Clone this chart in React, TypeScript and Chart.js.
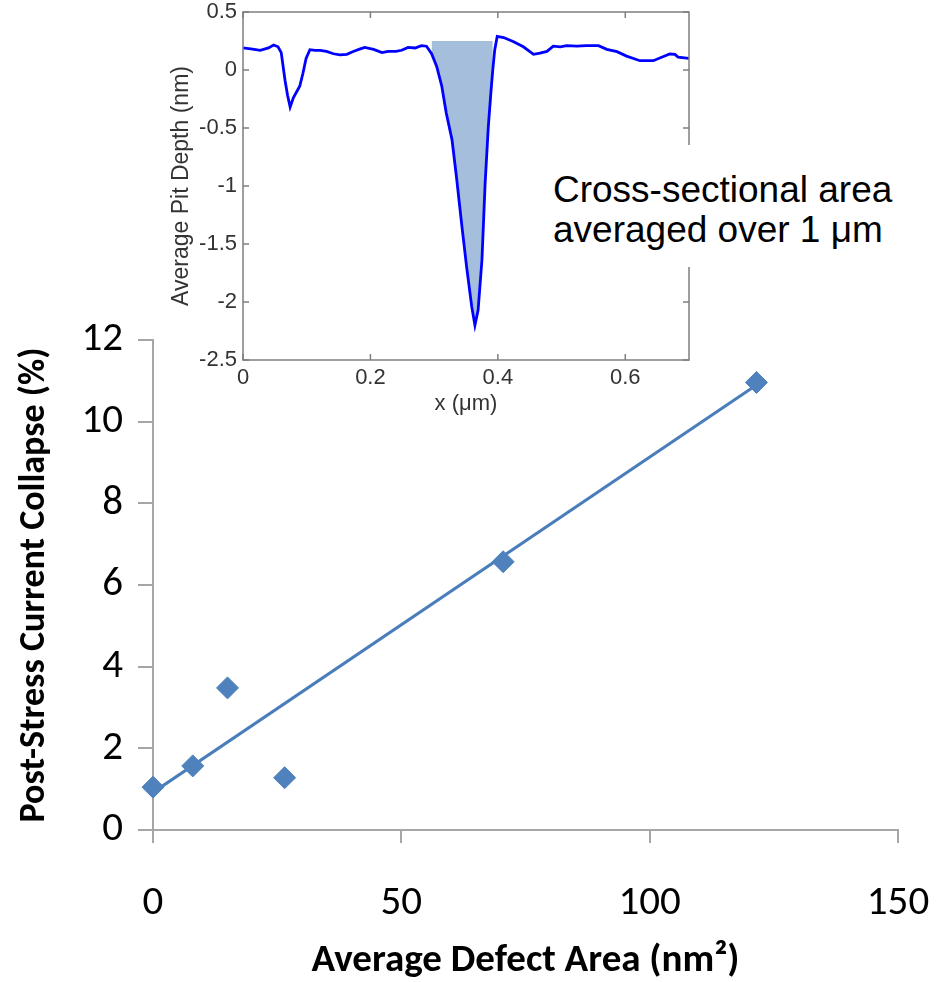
import React, { useEffect, useRef } from "react";
import { Chart, registerables } from "chart.js";

Chart.register(...registerables);

// ---------- Main scatter data ----------
const defectArea = [0, 8, 15, 26.5, 70.5, 121.5];
const currentCollapse = [1.05, 1.57, 3.48, 1.28, 6.57, 10.96];
const trendX = [0, 121.5];
const trendY = [0.92, 10.9];
const mainXTicks = [0, 50, 100, 150];
const mainYTicks = [0, 2, 4, 6, 8, 10, 12];

// ---------- Inset profile data ----------
const profileX = [
  0.0, 0.015, 0.027, 0.04, 0.048, 0.055, 0.06, 0.066, 0.07, 0.074, 0.079, 0.084, 0.089, 0.094, 0.099,
  0.105, 0.113, 0.121, 0.131, 0.142, 0.152, 0.163, 0.173, 0.183, 0.191, 0.205, 0.218, 0.228, 0.24,
  0.249, 0.259, 0.27, 0.28, 0.288, 0.296, 0.304, 0.312, 0.319, 0.328, 0.335, 0.343, 0.351, 0.359,
  0.364, 0.369, 0.375, 0.38, 0.385, 0.389, 0.392, 0.395, 0.399, 0.409, 0.424, 0.44, 0.456, 0.466,
  0.477, 0.487, 0.498, 0.508, 0.524, 0.539, 0.558, 0.571, 0.587, 0.602, 0.623, 0.644, 0.657, 0.67,
  0.678, 0.683, 0.7,
];
const profileY = [
  0.19, 0.18, 0.17, 0.19, 0.215, 0.2, 0.15, -0.09, -0.22, -0.32, -0.24, -0.19, -0.14, -0.03, 0.1,
  0.175, 0.17, 0.17, 0.16, 0.14, 0.13, 0.135, 0.16, 0.18, 0.195, 0.178, 0.15, 0.16, 0.16,
  0.17, 0.195, 0.19, 0.21, 0.205, 0.14, 0.03, -0.14, -0.37, -0.6, -0.92, -1.32, -1.7, -2.04,
  -2.2, -2.07, -1.64, -0.98, -0.49, -0.2, 0.0, 0.17, 0.29, 0.28, 0.245, 0.2, 0.135, 0.145,
  0.16, 0.205, 0.2, 0.21, 0.205, 0.21, 0.21, 0.178, 0.158, 0.12, 0.08, 0.08, 0.11, 0.138,
  0.135, 0.11, 0.1,
];
const pitFillFrom = 0.295;
const pitFillTo = 0.393;
const pitFillTop = 0.25;
const insetXTicks = [0, 0.2, 0.4, 0.6];
const insetYTicks = [0.5, 0, -0.5, -1, -1.5, -2, -2.5];

const MAIN_FONT = "Carlito, Lato, sans-serif";
const INSET_FONT = "'Liberation Sans', Arial, sans-serif";

const framePlugin = {
  id: "insetFrame",
  afterDatasetsDraw(chart: any) {
    const { ctx, chartArea, scales } = chart;
    const { left, right, top, bottom } = chartArea;
    ctx.save();
    ctx.strokeStyle = "#7f7f7f";
    ctx.lineWidth = 1.5;
    ctx.strokeRect(left, top, right - left, bottom - top);
    const tl = 6;
    ctx.beginPath();
    insetXTicks.forEach((v) => {
      const px = scales.x.getPixelForValue(v);
      ctx.moveTo(px, top);
      ctx.lineTo(px, top + tl);
      ctx.moveTo(px, bottom);
      ctx.lineTo(px, bottom - tl);
    });
    insetYTicks.forEach((v) => {
      const py = scales.y.getPixelForValue(v);
      ctx.moveTo(left, py);
      ctx.lineTo(left + tl, py);
      ctx.moveTo(right, py);
      ctx.lineTo(right - tl, py);
    });
    ctx.stroke();
    ctx.restore();
  },
};

export default function App() {
  const mainRef = useRef<HTMLCanvasElement>(null);
  const insetRef = useRef<HTMLCanvasElement>(null);

  useEffect(() => {
    const scatterPoints = defectArea.map((x, i) => ({ x, y: currentCollapse[i] }));
    const trendPoints = trendX.map((x, i) => ({ x, y: trendY[i] }));

    const main = new Chart(mainRef.current as HTMLCanvasElement, {
      type: "scatter",
      data: {
        datasets: [
          {
            type: "scatter",
            data: scatterPoints,
            pointStyle: "rectRot",
            pointRadius: 11,
            backgroundColor: "#4F81BD",
            borderColor: "#4F81BD",
            borderWidth: 1,
            clip: false,
          } as any,
          {
            type: "line",
            data: trendPoints,
            borderColor: "#4A7EBB",
            borderWidth: 3,
            pointRadius: 0,
            fill: false,
            tension: 0,
          } as any,
        ],
      },
      options: {
        responsive: false,
        animation: false,
        devicePixelRatio: 1,
        layout: { padding: { top: 340, right: 39, left: 0, bottom: 0 } },
        plugins: { legend: { display: false }, tooltip: { enabled: false } },
        scales: {
          x: {
            type: "linear",
            min: 0,
            max: 150,
            afterBuildTicks: (s: any) => {
              s.ticks = mainXTicks.map((v) => ({ value: v }));
            },
            grid: { drawOnChartArea: false, drawTicks: true, tickLength: 13, color: "#a6a6a6", lineWidth: 2 },
            border: { color: "#a6a6a6", width: 2 },
            ticks: { padding: 36, color: "#000", font: { family: MAIN_FONT, size: 41 } },
            title: {
              display: true,
              text: "Average Defect Area (nm²)",
              color: "#000",
              font: { family: MAIN_FONT, size: 39, weight: "bold" },
              padding: { top: 0, bottom: -3 },
            },
            afterFit: (s: any) => {
              s.height = 152;
              s.paddingLeft = 0;
              s.paddingRight = 0;
            },
          },
          y: {
            type: "linear",
            min: 0,
            max: 12,
            afterBuildTicks: (s: any) => {
              s.ticks = mainYTicks.map((v) => ({ value: v }));
            },
            grid: { drawOnChartArea: false, drawTicks: true, tickLength: 15, color: "#a6a6a6", lineWidth: 2 },
            border: { color: "#a6a6a6", width: 2 },
            ticks: { padding: 15, color: "#000", font: { family: MAIN_FONT, size: 41 } },
            title: {
              display: true,
              text: "Post-Stress Current Collapse (%)",
              color: "#000",
              font: { family: MAIN_FONT, size: 36, weight: "bold" },
              padding: { top: 13, bottom: 0 },
            },
            afterFit: (s: any) => {
              s.width = 153;
              s.paddingTop = 0;
              s.paddingBottom = 0;
            },
          },
        },
      } as any,
    });

    const profile = profileX.map((x, i) => ({ x, y: profileY[i] }));
    const pitFill = profile.filter((p) => p.x >= pitFillFrom && p.x <= pitFillTo);

    const inset = new Chart(insetRef.current as HTMLCanvasElement, {
      type: "line",
      data: {
        datasets: [
          {
            data: profile,
            borderColor: "#0000FF",
            borderWidth: 2.8,
            pointRadius: 0,
            tension: 0,
            fill: false,
          } as any,
          {
            data: pitFill,
            borderWidth: 0,
            borderColor: "rgba(0,0,0,0)",
            pointRadius: 0,
            tension: 0,
            backgroundColor: "rgb(164,190,220)",
            fill: { value: pitFillTop },
          } as any,
        ],
      },
      options: {
        responsive: false,
        animation: false,
        devicePixelRatio: 1,
        layout: { padding: { top: 12, right: 21, left: 0, bottom: 0 } },
        plugins: { legend: { display: false }, tooltip: { enabled: false } },
        scales: {
          x: {
            type: "linear",
            min: 0,
            max: 0.7,
            afterBuildTicks: (s: any) => {
              s.ticks = insetXTicks.map((v) => ({ value: v }));
            },
            grid: { display: false, drawTicks: false },
            border: { display: false },
            ticks: {
              padding: 5,
              color: "#333",
              font: { family: INSET_FONT, size: 22 },
              callback: (v: any) => String(Math.round(Number(v) * 10) / 10),
            },
            title: {
              display: true,
              text: "x (μm)",
              color: "#333",
              font: { family: INSET_FONT, size: 22 },
              padding: { top: 0, bottom: 3 },
            },
            afterFit: (s: any) => {
              s.height = 60;
              s.paddingLeft = 0;
              s.paddingRight = 0;
            },
          },
          y: {
            type: "linear",
            min: -2.5,
            max: 0.5,
            afterBuildTicks: (s: any) => {
              s.ticks = insetYTicks.map((v) => ({ value: v }));
            },
            grid: { display: false, drawTicks: false },
            border: { display: false },
            ticks: {
              padding: 6,
              color: "#333",
              font: { family: INSET_FONT, size: 22 },
              callback: (v: any) => String(Math.round(Number(v) * 10) / 10),
            },
            title: {
              display: true,
              text: "Average Pit Depth (nm)",
              color: "#333",
              font: { family: INSET_FONT, size: 23 },
              padding: { top: 18, bottom: 0 },
            },
            afterFit: (s: any) => {
              s.width = 93;
              s.paddingTop = 0;
              s.paddingBottom = 0;
            },
          },
        },
      } as any,
      plugins: [framePlugin as any],
    });

    return () => {
      main.destroy();
      inset.destroy();
    };
  }, []);

  return (
    <div style={{ position: "absolute", left: 0, top: 0, width: 937, height: 982, background: "#fff", overflow: "hidden" }}>
      <canvas ref={mainRef} width={937} height={982} style={{ position: "absolute", left: 0, top: 0 }} />
      <canvas ref={insetRef} width={560} height={420} style={{ position: "absolute", left: 150, top: 0 }} />
      <div
        style={{
          position: "absolute",
          left: 545,
          top: 145,
          width: 370,
          height: 122,
          background: "#fff",
          boxSizing: "border-box",
          paddingLeft: 8,
          paddingTop: 25,
          fontFamily: INSET_FONT,
          fontSize: 37,
          lineHeight: "40px",
          color: "#000",
          whiteSpace: "nowrap",
        }}
      >
        Cross-sectional area
        <br />
        averaged over 1 μm
      </div>
    </div>
  );
}
